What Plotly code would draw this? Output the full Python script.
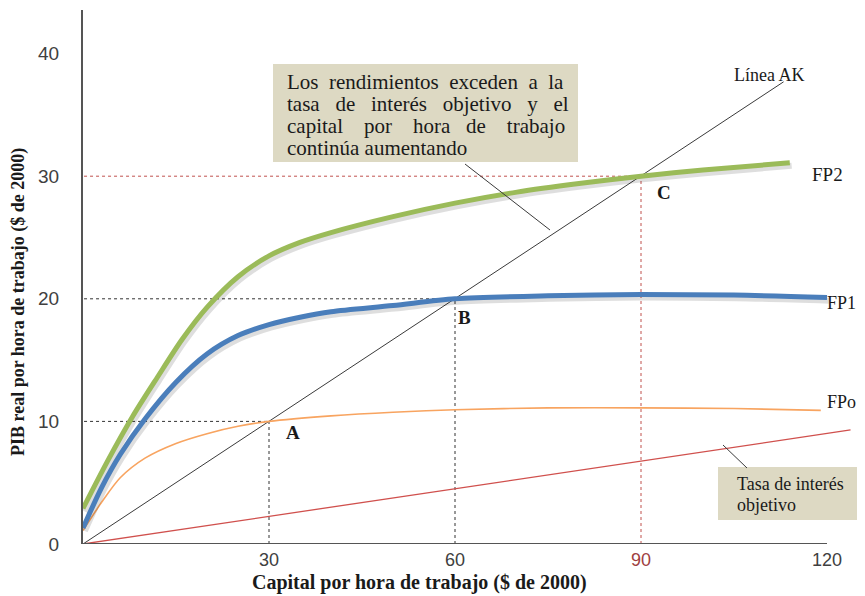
import plotly.graph_objects as go

# ---- data ----
capital_fp2 = [0, 4, 8, 12, 16, 20, 25, 30, 35, 40, 50, 60, 70, 80, 90, 100, 114]
pib_fp2 = [2.9, 6.8, 10.4, 13.6, 16.7, 19.3, 21.8, 23.5, 24.6, 25.4, 26.7, 27.8, 28.7, 29.4, 30.0, 30.5, 31.1]

capital_fp1 = [0, 3, 6, 10, 15, 20, 25, 30, 35, 40, 50, 60, 75, 90, 105, 120]
pib_fp1 = [1.3, 4.6, 7.3, 10.2, 13.2, 15.5, 17.0, 17.9, 18.5, 18.95, 19.45, 20.0, 20.25, 20.35, 20.3, 20.1]

capital_fp0 = [0, 3, 6, 10, 15, 20, 25, 30, 40, 50, 60, 75, 90, 105, 119]
pib_fp0 = [1.1, 3.4, 5.4, 7.0, 8.2, 9.0, 9.6, 10.0, 10.45, 10.75, 10.95, 11.1, 11.1, 11.05, 10.9]

capital_ak = [0, 113]
pib_ak = [0, 37.7]

capital_tasa = [0, 123.8]
pib_tasa = [0, 9.3]

eq_capital = [30, 60, 90]
eq_pib = [10, 20, 30]
eq_names = ["A", "B", "C"]

x_ticks = [30, 60, 90, 120]
x_ticktext = ["30", "60", "<span style='color:#a0403f'>90</span>", "120"]
y_ticks = [0, 10, 20, 30, 40]

# ---- layout constants (page body has an 8px margin) ----
OFF = 8
W, H = 865 - 2 * OFF, 596 - OFF
L_scr, T_scr, BOT_scr = 83, 10, 544          # plot area edges in screen pixels
L, T = L_scr - OFF, T_scr - OFF
B = H - (BOT_scr - OFF)
plot_w = W - L
plot_h = H - T - B
x_max = plot_w / 6.2
y_max = plot_h / 12.26


def px(xs):
    return (xs - L_scr) / plot_w


def py(ys):
    return (BOT_scr - ys) / plot_h


serif = "Liberation Serif"
sans = "Liberation Sans"
ink = "#1a1a1a"

fig = go.Figure()

fig.add_trace(go.Scatter(x=capital_tasa, y=pib_tasa, mode="lines",
                         line=dict(color="#d0504d", width=1.3), hoverinfo="skip"))
fig.add_trace(go.Scatter(x=capital_ak, y=pib_ak, mode="lines",
                         line=dict(color="#3a3a3a", width=1), hoverinfo="skip"))
fig.add_trace(go.Scatter(x=capital_fp0, y=pib_fp0, mode="lines",
                         line=dict(color="#f8a460", width=1.6, shape="spline", smoothing=0.8),
                         hoverinfo="skip"))
# soft drop shadows under the thick curves
for cx, cy in [(capital_fp1, pib_fp1), (capital_fp2, pib_fp2)]:
    fig.add_trace(go.Scatter(x=[v + 0.3 for v in cx], y=[v - 0.25 for v in cy], mode="lines",
                             line=dict(color="rgba(0,0,0,0.13)", width=6, shape="spline", smoothing=0.8),
                             hoverinfo="skip"))
fig.add_trace(go.Scatter(x=capital_fp1, y=pib_fp1, mode="lines",
                         line=dict(color="#4a7ebb", width=5, shape="spline", smoothing=0.8),
                         hoverinfo="skip"))
fig.add_trace(go.Scatter(x=capital_fp2, y=pib_fp2, mode="lines",
                         line=dict(color="#9bbb59", width=5, shape="spline", smoothing=0.8),
                         hoverinfo="skip"))

shapes = []
for k, v, n in zip(eq_capital, eq_pib, eq_names):
    col = "#c0504d" if n == "C" else "#333333"
    shapes.append(dict(type="line", xref="x", yref="y", x0=-0.8, x1=k, y0=v, y1=v,
                       line=dict(color=col, width=1, dash="dot"), layer="below"))
    shapes.append(dict(type="line", xref="x", yref="y", x0=k, x1=k, y0=0, y1=v,
                       line=dict(color=col, width=1, dash="dot"), layer="below"))
shapes.append(dict(type="line", xref="x", yref="y", x0=0, x1=120, y0=0, y1=0,
                   line=dict(color="#555555", width=2)))
shapes.append(dict(type="rect", xref="paper", yref="paper",
                   x0=px(273), x1=px(578), y0=py(162), y1=py(64),
                   fillcolor="#ddd9c3", line=dict(width=0), layer="below"))
shapes.append(dict(type="line", xref="paper", yref="paper",
                   x0=px(465), y0=py(164), x1=px(550), y1=py(230),
                   line=dict(color="#3a3a3a", width=1)))
shapes.append(dict(type="rect", xref="paper", yref="paper",
                   x0=px(718), x1=1.0, y0=py(520), y1=py(467),
                   fillcolor="#ddd9c3", line=dict(width=0), layer="below"))
shapes.append(dict(type="line", xref="paper", yref="paper",
                   x0=px(723), y0=py(445), x1=px(747), y1=py(468),
                   line=dict(color="#3a3a3a", width=1)))

nb = "\u00a0"
box_lines = [
    "Los" + nb * 2 + "rendimientos" + nb * 2 + "exceden" + nb * 2 + "a" + nb * 2 + "la",
    "tasa" + nb * 3 + "de" + nb * 3 + "interés" + nb * 3 + "objetivo" + nb * 3 + "y" + nb * 3 + "el",
    "capital" + nb * 4 + "por" + nb * 4 + "hora" + nb * 3 + "de" + nb * 4 + "trabajo",
    "continúa aumentando",
]
box_y = [82, 104, 126, 148]

ann = []
for t, yy in zip(box_lines, box_y):
    ann.append(dict(text=t, xref="paper", yref="paper", x=px(285), y=py(yy),
                    xanchor="left", yanchor="middle", showarrow=False,
                    font=dict(family=serif, size=21, color=ink)))
for t, yy in zip(["Tasa de interés", "objetivo"], [484, 505]):
    ann.append(dict(text=t, xref="paper", yref="paper", x=px(735), y=py(yy),
                    xanchor="left", yanchor="middle", showarrow=False,
                    font=dict(family=serif, size=18, color=ink)))


def lab(text, x, y, size=19, xanchor="center"):
    return dict(text=text, x=x, y=y, xref="x", yref="y", xanchor=xanchor, yanchor="middle",
                showarrow=False, font=dict(family=serif, size=size, color=ink))


ann.append(lab("Línea AK", 110.6, 38.25, size=18))
ann.append(lab("FP2", 117.3, 30.1, xanchor="left"))
ann.append(lab("FP1", 119.6, 19.66, size=18, xanchor="left"))
ann.append(lab("FPo", 119.6, 11.6, size=18, xanchor="left"))

offsets = {"A": (3.9, -0.9), "B": (1.6, -1.5), "C": (3.7, -1.3)}
for k, v, n in zip(eq_capital, eq_pib, eq_names):
    dx, dy = offsets[n]
    ann.append(lab("<b>" + n + "</b>", k + dx, v + dy))

ann.append(dict(text="<b>Capital por hora de trabajo ($ de 2000)</b>", xref="paper", yref="paper",
                x=px(419), y=py(582), xanchor="center", yanchor="middle", showarrow=False,
                font=dict(family=serif, size=20, color=ink)))
ann.append(dict(text="<b>PIB real por hora de trabajo ($ de 2000)</b>", xref="paper", yref="paper",
                x=px(18), y=py(302), xanchor="center", yanchor="middle", showarrow=False,
                textangle=-90, font=dict(family=serif, size=18, color=ink)))

fig.update_layout(
    width=W, height=H,
    margin=dict(l=L, r=0, t=T, b=B, pad=0),
    paper_bgcolor="white", plot_bgcolor="white",
    showlegend=False,
    shapes=shapes,
    annotations=ann,
    xaxis=dict(range=[0, x_max], showgrid=False, zeroline=False, showline=False,
               tickmode="array", tickvals=x_ticks, ticktext=x_ticktext, ticks="",
               tickfont=dict(family=sans, size=18, color="#404040"), ticklabelstandoff=3),
    yaxis=dict(range=[0, y_max], showgrid=False, zeroline=False, showline=True,
               linecolor="#555555", linewidth=2,
               tickmode="array", tickvals=y_ticks, ticks="",
               tickfont=dict(family=sans, size=19, color="#404040"), ticklabelstandoff=18),
)

fig.write_html("out.html")
